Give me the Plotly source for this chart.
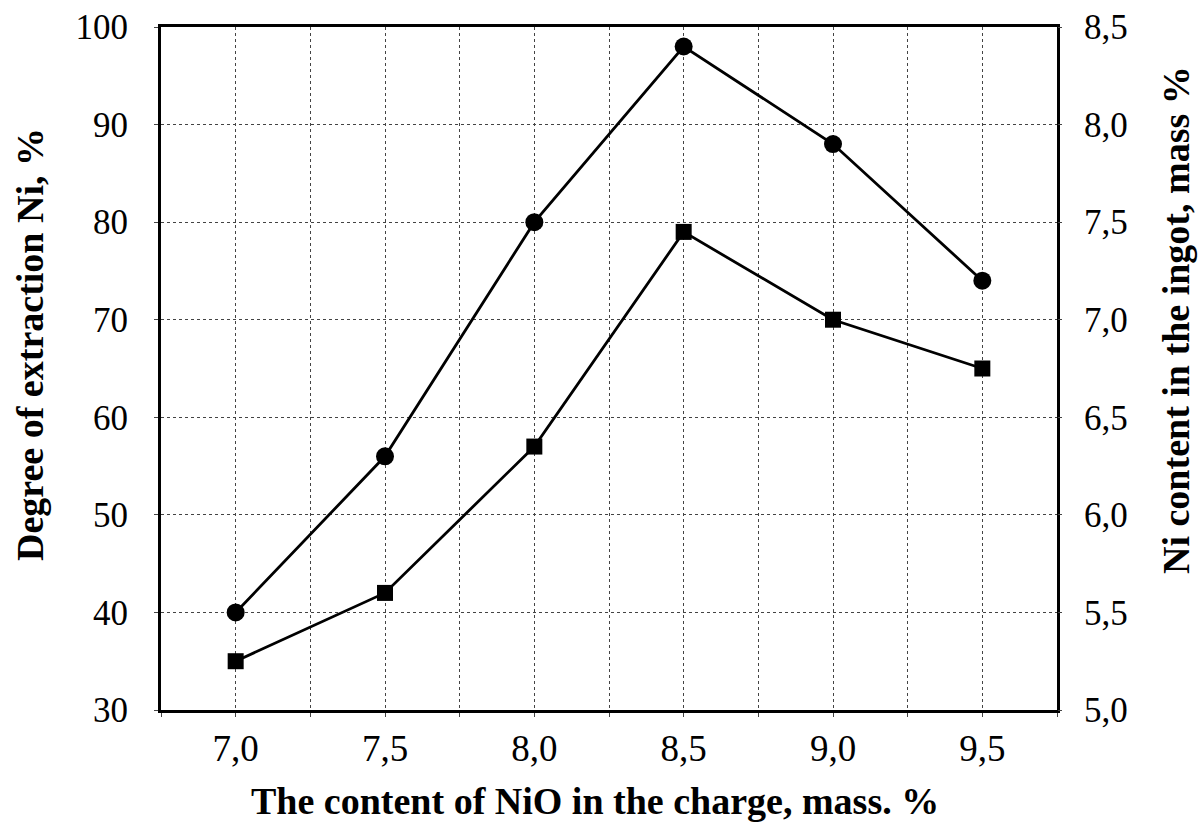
import plotly.graph_objects as go

x_nio = [7.0, 7.5, 8.0, 8.5, 9.0, 9.5]
extraction = [40, 56, 80, 98, 88, 74]          # left axis, %
ni_content = [5.25, 5.6, 6.35, 7.45, 7.0, 6.75]  # right axis, mass %

x_ticks = [7.0, 7.5, 8.0, 8.5, 9.0, 9.5]
x_tick_labels = ["7,0", "7,5", "8,0", "8,5", "9,0", "9,5"]
y_ticks = [30, 40, 50, 60, 70, 80, 90, 100]
y2_ticks = [5.0, 5.5, 6.0, 6.5, 7.0, 7.5, 8.0, 8.5]
y2_tick_labels = ["5,0", "5,5", "6,0", "6,5", "7,0", "7,5", "8,0", "8,5"]

x_title = "The content of NiO in the charge, mass. %"
y_title = "Degree of extraction Ni, %"
y2_title = "Ni content in the ingot, mass %"

FONT = "Liberation Serif"
W, H = 1201, 829
L, R, T, B = 161, 144, 27, 119
PW, PH = W - L - R, H - T - B


def px_x(p):
    return (p - L) / PW


def px_y(p):
    return (H - B - p) / PH


fig = go.Figure()
fig.add_trace(go.Scatter(
    x=x_nio, y=extraction, mode="lines+markers",
    line=dict(color="black", width=2.8),
    marker=dict(symbol="circle", size=18, color="black"),
    showlegend=False, yaxis="y"))
fig.add_trace(go.Scatter(
    x=x_nio, y=ni_content, mode="lines+markers",
    line=dict(color="black", width=2.8),
    marker=dict(symbol="square", size=16, color="black"),
    showlegend=False, yaxis="y2"))

grid = dict(showgrid=True, gridcolor="#444", gridwidth=1, griddash="dot")

fig.update_layout(
    width=W, height=H,
    margin=dict(l=L, r=R, t=T, b=B),
    paper_bgcolor="white", plot_bgcolor="white",
    font=dict(family=FONT, color="black"),
    xaxis=dict(
        range=[6.75, 9.75], tickvals=x_ticks, ticktext=x_tick_labels,
        tickfont=dict(size=37, family=FONT), ticks="outside", ticklen=4,
        tickcolor="#444", automargin=False,
        showline=True, linecolor="black", linewidth=3, mirror=True,
        zeroline=False, **grid,
        minor=dict(dtick=0.25, tick0=6.75, showgrid=True, gridcolor="#444",
                   gridwidth=1, griddash="dot", ticks="outside", ticklen=4,
                   tickcolor="#444"),
    ),
    yaxis=dict(
        range=[30, 100], tickvals=y_ticks,
        tickfont=dict(size=35, family=FONT), ticks="outside", ticklen=4,
        tickcolor="#444", ticklabelstandoff=19, automargin=False,
        showline=True, linecolor="black", linewidth=3, mirror=True,
        zeroline=False, **grid,
    ),
    yaxis2=dict(
        range=[5.0, 8.5], tickvals=y2_ticks, ticktext=y2_tick_labels,
        overlaying="y", side="right",
        tickfont=dict(size=35, family=FONT), ticks="outside", ticklen=4,
        tickcolor="#444", ticklabelstandoff=15, automargin=False,
        showline=False, showgrid=False, zeroline=False,
    ),
    annotations=[
        dict(text="<b>" + x_title + "</b>", xref="paper", yref="paper",
             x=px_x(595), y=px_y(801), xanchor="center", yanchor="middle",
             showarrow=False, font=dict(size=38, family=FONT)),
        dict(text="<b>" + y_title + "</b>", xref="paper", yref="paper",
             x=px_x(30), y=px_y(345), xanchor="center", yanchor="middle",
             textangle=-90, showarrow=False, font=dict(size=38, family=FONT)),
        dict(text="<b>" + y2_title + "</b>", xref="paper", yref="paper",
             x=px_x(1176), y=px_y(320), xanchor="center", yanchor="middle",
             textangle=-90, showarrow=False, font=dict(size=38, family=FONT)),
    ],
)

fig.write_html("out.html")
